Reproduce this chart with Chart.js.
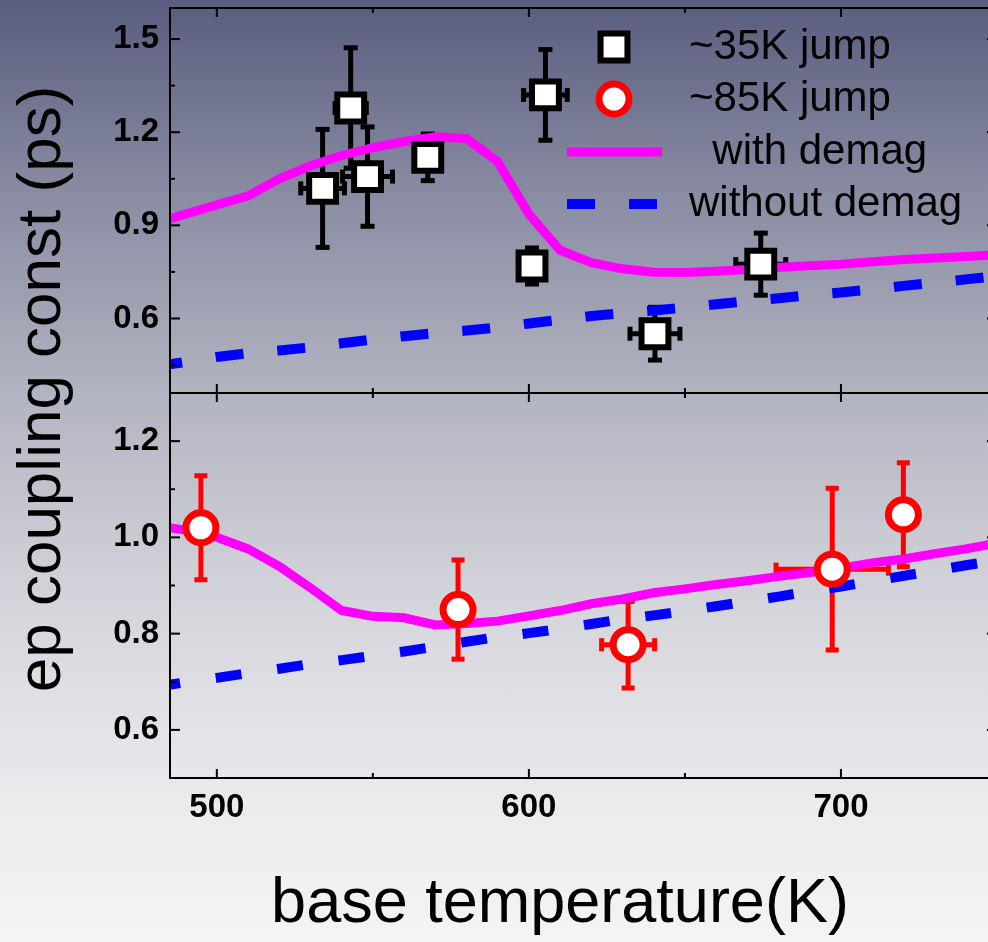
<!DOCTYPE html>
<html>
<head>
<meta charset="utf-8">
<script src="https://cdn.jsdelivr.net/npm/chart.js@4"></script>
<style>
  html, body { margin: 0; padding: 0; overflow: hidden; }
  body {
    width: 988px; height: 942px;
    background: linear-gradient(to bottom, #595d7e 0%, #8a8da3 21%, #b3b4c1 42%, #d4d4db 64%, #ebebee 85%, #f4f4f5 100%);
  }
  canvas { display: block; }
</style>
</head>
<body>
<canvas id="epChart" width="1000" height="942"></canvas>
<script>
// temperature grid of the model curves (K)
const tempGrid = [480, 490, 500, 510, 520, 530, 540, 550, 560, 570, 580, 590, 600, 610,
                  620, 630, 640, 650, 660, 670, 680, 690, 700, 710, 720, 730, 740, 750];

// upper panel: ~35K jump
const withDemagTop    = [0.906, 0.936, 0.966, 0.995, 1.050, 1.092, 1.125, 1.150, 1.170, 1.185, 1.180, 1.105, 0.936, 0.820,
                         0.780, 0.760, 0.749, 0.748, 0.752, 0.758, 0.765, 0.770, 0.775, 0.783, 0.790, 0.795, 0.800, 0.805];
const withoutDemagTop = [0.445, 0.460, 0.476, 0.488, 0.497, 0.507, 0.520, 0.532, 0.543, 0.553, 0.561, 0.571, 0.584, 0.596,
                         0.608, 0.617, 0.626, 0.635, 0.646, 0.656, 0.665, 0.675, 0.684, 0.694, 0.705, 0.715, 0.726, 0.737];
const jump35T    = [533.9, 542.9, 548.3, 567.6, 605.3, 601.0, 640.4, 674.3];
const jump35C    = [1.019, 1.278, 1.057, 1.119, 1.320, 0.769, 0.551, 0.775];
const jump35CErr = [0.190, 0.194, 0.160, 0.075, 0.146, 0.058, 0.085, 0.100];
const jump35TErr = [7, 5, 8, 0, 7, 0, 8, 8];

// lower panel: ~85K jump
const withDemagBot    = [1.025, 1.015, 1.000, 0.976, 0.940, 0.895, 0.848, 0.836, 0.833, 0.818, 0.821, 0.826, 0.837, 0.848,
                         0.862, 0.872, 0.885, 0.893, 0.902, 0.910, 0.919, 0.927, 0.936, 0.947, 0.955, 0.966, 0.976, 0.988];
const withoutDemagBot = [0.689, 0.699, 0.708, 0.718, 0.727, 0.737, 0.745, 0.754, 0.763, 0.773, 0.783, 0.793, 0.801, 0.810,
                         0.820, 0.830, 0.838, 0.847, 0.857, 0.867, 0.877, 0.888, 0.898, 0.909, 0.920, 0.931, 0.942, 0.952];
const jump85T    = [494.9, 577.3, 631.8, 697.2, 720.0];
const jump85C    = [1.020, 0.850, 0.777, 0.934, 1.047];
const jump85CErr = [0.108, 0.103, 0.090, 0.168, 0.108];
const jump85TErr = [0, 0, 8.5, 18, 0];

// ticks
const xTicks = [500, 600, 700];
const xMinorTicks = [550, 650, 750];
const topTicks = [0.6, 0.9, 1.2, 1.5];
const topMinorTicks = [0.45, 0.75, 1.05, 1.35];
const botTicks = [0.6, 0.8, 1.0, 1.2];
const botMinorTicks = [0.7, 0.9, 1.1];

const FONT = "'Liberation Sans', Arial, sans-serif";
const MAGENTA = '#ff00ff', BLUE = '#0000ff', RED = '#ff0000';

const pts = (xs, ys) => xs.map((x, i) => ({ x: x, y: ys[i] }));

function seg(ctx, x1, y1, x2, y2) {
    ctx.beginPath();
    ctx.moveTo(x1, y1);
    ctx.lineTo(x2, y2);
    ctx.stroke();
}

// error bars, under the curves and markers
const errorBars = {
    id: 'errorBars',
    beforeDatasetsDraw(chart) {
        const ctx = chart.ctx;
        const xs = chart.scales.x;
        const sets = [
            [chart.scales.yTop, jump35T, jump35C, jump35CErr, jump35TErr, '#000', 14],
            [chart.scales.yBot, jump85T, jump85C, jump85CErr, jump85TErr, RED, 13]
        ];
        ctx.save();
        ctx.lineWidth = 5;
        sets.forEach(([ys, tx, cy, cErr, tErr, color, cap]) => {
            ctx.strokeStyle = color;
            tx.forEach((t, i) => {
                const px = xs.getPixelForValue(t);
                const py = ys.getPixelForValue(cy[i]);
                const y1 = ys.getPixelForValue(cy[i] + cErr[i]);
                const y2 = ys.getPixelForValue(cy[i] - cErr[i]);
                seg(ctx, px, y1, px, y2);
                seg(ctx, px - cap / 2, y1, px + cap / 2, y1);
                seg(ctx, px - cap / 2, y2, px + cap / 2, y2);
                if (tErr[i] > 0) {
                    const x1 = xs.getPixelForValue(t - tErr[i]);
                    const x2 = xs.getPixelForValue(t + tErr[i]);
                    seg(ctx, x1, py, x2, py);
                    seg(ctx, x1, py - cap / 2, x1, py + cap / 2);
                    seg(ctx, x2, py - cap / 2, x2, py + cap / 2);
                }
            });
        });
        ctx.restore();
    }
};

// frame, inward ticks, legend and axis titles
const frame = {
    id: 'frame',
    afterDraw(chart) {
        const ctx = chart.ctx;
        const a = chart.chartArea;
        const { x, yTop, yBot } = chart.scales;
        const mid = yTop.bottom;
        ctx.save();
        ctx.strokeStyle = '#000';
        ctx.lineWidth = 2;
        ctx.strokeRect(a.left, a.top, a.right - a.left, a.bottom - a.top);
        seg(ctx, a.left, mid, a.right, mid);

        [[a.top, 1], [mid, -1], [mid, 1], [a.bottom, -1]].forEach(([y, dir]) => {
            xTicks.forEach(v => { const p = x.getPixelForValue(v); seg(ctx, p, y, p, y + dir * 9); });
            xMinorTicks.forEach(v => { const p = x.getPixelForValue(v); seg(ctx, p, y, p, y + dir * 5); });
        });
        [[yTop, topTicks, topMinorTicks], [yBot, botTicks, botMinorTicks]].forEach(([ys, maj, min]) => {
            maj.forEach(v => {
                const p = ys.getPixelForValue(v);
                seg(ctx, a.left, p, a.left + 10, p);
                seg(ctx, a.right, p, a.right - 10, p);
            });
            min.forEach(v => {
                const p = ys.getPixelForValue(v);
                seg(ctx, a.left, p, a.left + 5, p);
                seg(ctx, a.right, p, a.right - 5, p);
            });
        });

        // legend
        const ds = chart.data.datasets;
        const rows = [47, 99, 152, 204];
        ctx.font = '42px ' + FONT;
        ctx.textBaseline = 'middle';
        ctx.textAlign = 'left';
        ds.slice(0, 4).forEach((d, i) => {
            const y = rows[i];
            ctx.save();
            if (d.showLine) {
                ctx.strokeStyle = d.borderColor;
                ctx.lineWidth = d.borderWidth;
                ctx.setLineDash(d.borderDash || []);
                seg(ctx, 567, y, 662, y);
            } else {
                ctx.fillStyle = d.backgroundColor;
                ctx.strokeStyle = d.borderColor;
                ctx.lineWidth = d.borderWidth;
                ctx.beginPath();
                if (d.pointStyle === 'rect') {
                    const h = d.pointRadius * Math.SQRT1_2;
                    ctx.rect(614 - h, y - h, 2 * h, 2 * h);
                } else {
                    ctx.arc(614, y, d.pointRadius, 0, Math.PI * 2);
                }
                ctx.fill();
                ctx.stroke();
            }
            ctx.restore();
            ctx.fillStyle = '#000';
            ctx.fillText(d.label, 689, y);
        });

        // axis titles
        ctx.font = '63px ' + FONT;
        ctx.fillStyle = '#000';
        ctx.textAlign = 'center';
        ctx.textBaseline = 'alphabetic';
        ctx.fillText('base temperature(K)', 560, 922);
        ctx.translate(60, 389);
        ctx.rotate(-Math.PI / 2);
        ctx.font = '62px ' + FONT;
        ctx.fillText('ep coupling const (ps)', 0, 0);
        ctx.restore();
    }
};

const yAxis = (min, max, ticks) => ({
    type: 'linear',
    position: 'left',
    stack: 'panels',
    stackWeight: 1,
    min: min,
    max: max,
    grid: { display: false, drawTicks: false },
    border: { display: false },
    ticks: {
        color: '#000',
        padding: 11,
        font: { family: FONT, size: 33, weight: 'bold' },
        callback: v => v.toFixed(1)
    },
    afterBuildTicks: s => { s.ticks = ticks.map(v => ({ value: v })); },
    afterFit: s => { s.width = 170; s.paddingTop = 0; s.paddingBottom = 0; }
});

new Chart(document.getElementById('epChart'), {
    type: 'scatter',
    data: {
        datasets: [
            {
                label: '~35K jump',
                data: pts(jump35T, jump35C),
                yAxisID: 'yTop',
                pointStyle: 'rect',
                pointRadius: 19,
                borderWidth: 6,
                borderColor: '#000',
                backgroundColor: '#fff',
                order: 1
            },
            {
                label: '~85K jump',
                data: pts(jump85T, jump85C),
                yAxisID: 'yBot',
                pointStyle: 'circle',
                pointRadius: 15,
                borderWidth: 7,
                borderColor: RED,
                backgroundColor: '#fff',
                order: 1
            },
            {
                label: '  with demag',
                data: pts(tempGrid, withDemagTop),
                yAxisID: 'yTop',
                showLine: true,
                pointRadius: 0,
                borderColor: MAGENTA,
                borderWidth: 9,
                clip: 0,
                order: 2
            },
            {
                label: 'without demag',
                data: pts(tempGrid, withoutDemagTop),
                yAxisID: 'yTop',
                showLine: true,
                pointRadius: 0,
                borderColor: BLUE,
                borderWidth: 10,
                borderDash: [28, 34],
                clip: 0,
                order: 3
            },
            {
                label: 'with demag (85K)',
                data: pts(tempGrid, withDemagBot),
                yAxisID: 'yBot',
                showLine: true,
                pointRadius: 0,
                borderColor: MAGENTA,
                borderWidth: 9,
                clip: 0,
                order: 2
            },
            {
                label: 'without demag (85K)',
                data: pts(tempGrid, withoutDemagBot),
                yAxisID: 'yBot',
                showLine: true,
                pointRadius: 0,
                borderColor: BLUE,
                borderWidth: 10,
                borderDash: [26, 36],
                clip: 0,
                order: 3
            }
        ]
    },
    options: {
        responsive: false,
        animation: false,
        devicePixelRatio: 1,
        events: [],
        layout: { autoPadding: false, padding: { top: 8, right: 3, left: 0, bottom: 0 } },
        plugins: {
            legend: { display: false },
            tooltip: { enabled: false }
        },
        scales: {
            x: {
                type: 'linear',
                position: 'bottom',
                min: 485,
                max: 750,
                grid: { display: false, drawTicks: false },
                border: { display: false },
                ticks: {
                    color: '#000',
                    padding: 10,
                    font: { family: FONT, size: 33, weight: 'bold' }
                },
                afterBuildTicks: s => { s.ticks = xTicks.map(v => ({ value: v })); },
                afterFit: s => { s.height = 164; s.paddingLeft = 0; s.paddingRight = 0; }
            },
            yBot: yAxis(0.5, 1.3, botTicks),
            yTop: yAxis(0.36, 1.6, topTicks)
        }
    },
    plugins: [errorBars, frame]
});
</script>
</body>
</html>
